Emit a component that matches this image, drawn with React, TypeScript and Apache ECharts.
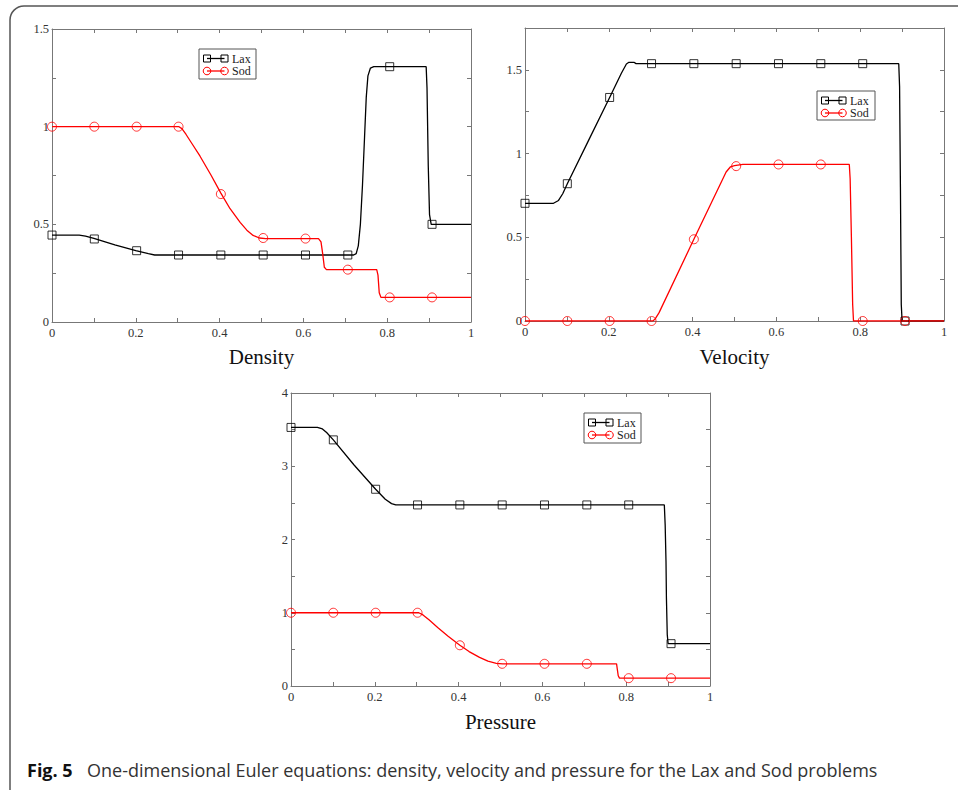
import React, { useEffect, useRef } from "react";
import * as echarts from "echarts";

// ---------- data ----------
const X_MARKERS = [0, 0.101, 0.202, 0.302, 0.403, 0.504, 0.605, 0.706, 0.806, 0.907];

const DENSITY_LAX: [number, number][] = [
  [0, 0.445], [0.065, 0.445], [0.08, 0.44], [0.1, 0.428], [0.15, 0.395], [0.2, 0.365],
  [0.23, 0.35], [0.245, 0.343], [0.72, 0.343], [0.726, 0.35], [0.731, 0.39], [0.736, 0.5],
  [0.741, 0.7], [0.746, 0.95], [0.75, 1.15], [0.754, 1.26], [0.76, 1.3], [0.768, 1.307],
  [0.893, 1.307], [0.895, 1.2], [0.898, 0.8], [0.901, 0.55], [0.905, 0.5], [1, 0.5],
];
const DENSITY_SOD: [number, number][] = [
  [0, 1], [0.303, 1], [0.31, 0.99], [0.32, 0.96], [0.335, 0.91], [0.353, 0.85], [0.38, 0.75],
  [0.403, 0.66], [0.425, 0.58], [0.449, 0.51], [0.465, 0.47], [0.48, 0.443], [0.495, 0.43],
  [0.51, 0.427], [0.636, 0.427], [0.642, 0.41], [0.646, 0.35], [0.65, 0.28], [0.655, 0.268],
  [0.775, 0.268], [0.778, 0.24], [0.781, 0.15], [0.785, 0.126], [1, 0.126],
];
const DENSITY_LAX_MARKS = [0.445, 0.425, 0.365, 0.343, 0.343, 0.343, 0.343, 0.343, 1.307, 0.5];
const DENSITY_SOD_MARKS = [1, 1, 1, 1, 0.655, 0.43, 0.427, 0.268, 0.126, 0.126];

const VELOCITY_LAX: [number, number][] = [
  [0, 0.703], [0.068, 0.703], [0.08, 0.72], [0.09, 0.76], [0.101, 0.82], [0.15, 1.07],
  [0.202, 1.335], [0.23, 1.48], [0.242, 1.535], [0.248, 1.545], [0.26, 1.545], [0.265, 1.537],
  [0.892, 1.537], [0.894, 1.4], [0.896, 0.8], [0.898, 0.1], [0.9, 0], [1, 0],
];
const VELOCITY_SOD: [number, number][] = [
  [0, 0], [0.305, 0], [0.31, 0.01], [0.32, 0.05], [0.403, 0.488], [0.48, 0.89], [0.49, 0.92],
  [0.5, 0.928], [0.52, 0.935], [0.774, 0.935], [0.776, 0.85], [0.779, 0.5], [0.782, 0.1],
  [0.784, 0], [1, 0],
];
const VELOCITY_LAX_MARKS = [0.703, 0.82, 1.335, 1.537, 1.537, 1.537, 1.537, 1.537, 1.537, 0];
const VELOCITY_SOD_MARKS = [0, 0, 0, 0, 0.488, 0.925, 0.935, 0.935, 0, 0];

const PRESSURE_LAX: [number, number][] = [
  [0, 3.53], [0.063, 3.53], [0.075, 3.51], [0.085, 3.46], [0.101, 3.36], [0.15, 3.02],
  [0.202, 2.686], [0.225, 2.55], [0.24, 2.49], [0.25, 2.472], [0.891, 2.472], [0.893, 2.2],
  [0.895, 1.7], [0.896, 1.2], [0.898, 0.7], [0.9, 0.58], [1, 0.578],
];
const PRESSURE_SOD: [number, number][] = [
  [0, 1], [0.305, 1], [0.315, 0.97], [0.33, 0.9], [0.35, 0.8], [0.375, 0.68], [0.403, 0.556],
  [0.425, 0.47], [0.45, 0.39], [0.47, 0.34], [0.49, 0.31], [0.505, 0.303], [0.777, 0.303],
  [0.779, 0.22], [0.781, 0.14], [0.784, 0.107], [1, 0.107],
];
const PRESSURE_LAX_MARKS = [3.53, 3.36, 2.686, 2.472, 2.472, 2.472, 2.472, 2.472, 2.472, 0.578];
const PRESSURE_SOD_MARKS = [1, 1, 1, 1, 0.556, 0.303, 0.303, 0.303, 0.107, 0.107];

const TITLES = ["Density", "Velocity", "Pressure"];
const LEGEND_NAMES = ["Lax", "Sod"];
const Y_MAX = [1.5, 1.75, 4];
const Y_INTERVAL = [0.25, 0.25, 0.5];
const Y_LABEL_STEP = [0.5, 0.5, 1];
const X_INTERVAL = 0.1;
const X_LABEL_STEP = 0.2;
const CAPTION_BOLD = "Fig. 5";
const CAPTION_TEXT =
  "One-dimensional Euler equations: density, velocity and pressure for the Lax and Sod problems";

// ---------- layout / style ----------
const GRIDS = [
  { left: 52, top: 29, width: 419, height: 293 },
  { left: 525, top: 28, width: 419, height: 293 },
  { left: 291, top: 393, width: 419, height: 293 },
];
const LEGEND_BOXES = [
  { x: 199, y: 49, w: 57, h: 30 },
  { x: 817, y: 91, w: 58, h: 29 },
  { x: 584, y: 413, w: 57, h: 30 },
];
const TITLE_POS = [
  { x: 261.5, y: 357 },
  { x: 734.5, y: 357 },
  { x: 500.5, y: 722 },
];
const BLACK = "#000000";
const RED = "#ff0000";
const AXIS_COLOR = "#777777";
const SERIF = "'Liberation Serif', 'Times New Roman', serif";

const isMult = (v: number, s: number) => Math.abs(v / s - Math.round(v / s)) < 1e-6;
const fmt = (v: number) => String(Number(v.toFixed(2)));

function buildOption() {
  const curves = [
    [DENSITY_LAX, DENSITY_SOD],
    [VELOCITY_LAX, VELOCITY_SOD],
    [PRESSURE_LAX, PRESSURE_SOD],
  ];
  const marks = [
    [DENSITY_LAX_MARKS, DENSITY_SOD_MARKS],
    [VELOCITY_LAX_MARKS, VELOCITY_SOD_MARKS],
    [PRESSURE_LAX_MARKS, PRESSURE_SOD_MARKS],
  ];
  const xAxis: any[] = [];
  const yAxis: any[] = [];
  const series: any[] = [];
  const graphic: any[] = [];

  graphic.push({
    type: "rect",
    shape: { x: 10, y: 6, width: 1200, height: 1200, r: [14, 0, 0, 0] },
    style: { fill: "none", stroke: "#555", lineWidth: 1.5 },
    silent: true,
  });

  GRIDS.forEach((g, i) => {
    const tick = { show: true, inside: true, length: 4, lineStyle: { color: AXIS_COLOR, width: 1 } };
    const line = { show: true, onZero: false, lineStyle: { color: AXIS_COLOR, width: 1 } };
    const labelBase = { color: "#333", fontFamily: SERIF, fontSize: 12.5 };
    xAxis.push({
      type: "value", gridIndex: i, position: "bottom", min: 0, max: 1, interval: X_INTERVAL,
      axisLine: line, axisTick: tick, splitLine: { show: false },
      axisLabel: {
        ...labelBase, margin: 4, showMinLabel: true, showMaxLabel: true,
        formatter: (v: number) => (isMult(v, X_LABEL_STEP) ? fmt(v) : ""),
      },
    });
    xAxis.push({
      type: "value", gridIndex: i, position: "top", min: 0, max: 1, interval: X_INTERVAL,
      axisLine: line, axisTick: tick, splitLine: { show: false }, axisLabel: { show: false },
    });
    yAxis.push({
      type: "value", gridIndex: i, position: "left", min: 0, max: Y_MAX[i], interval: Y_INTERVAL[i],
      axisLine: line, axisTick: tick, splitLine: { show: false },
      axisLabel: {
        ...labelBase, margin: 3, showMinLabel: true, showMaxLabel: true,
        formatter: (v: number) => (isMult(v, Y_LABEL_STEP[i]) ? fmt(v) : ""),
      },
    });
    yAxis.push({
      type: "value", gridIndex: i, position: "right", min: 0, max: Y_MAX[i], interval: Y_INTERVAL[i],
      axisLine: line, axisTick: tick, splitLine: { show: false }, axisLabel: { show: false },
    });

    const colors = [BLACK, RED];
    const symbols = ["rect", "circle"];
    [0, 1].forEach((k) => {
      series.push({
        type: "line", name: LEGEND_NAMES[k], xAxisIndex: 2 * i, yAxisIndex: 2 * i,
        data: curves[i][k], showSymbol: false, symbol: "none", silent: true,
        lineStyle: { color: colors[k], width: 1.3 }, z: 2,
      });
      series.push({
        type: "scatter", name: LEGEND_NAMES[k] + " markers", xAxisIndex: 2 * i, yAxisIndex: 2 * i,
        data: X_MARKERS.map((x, j) => [x, marks[i][k][j]]),
        symbol: symbols[k], symbolSize: k === 0 ? 8 : 9, clip: false, silent: true,
        itemStyle: { color: "rgba(0,0,0,0)", borderColor: colors[k], borderWidth: 1 }, z: 3,
      });
    });

    // legend box
    const b = LEGEND_BOXES[i];
    const rows = [b.y + 9.5, b.y + 22];
    const children: any[] = [
      {
        type: "rect", shape: { x: b.x, y: b.y, width: b.w, height: b.h },
        style: { fill: "#fff", stroke: "#555", lineWidth: 1 },
      },
    ];
    rows.forEach((ry, k) => {
      const x0 = b.x + 8, x1 = b.x + 25.5;
      children.push({
        type: "line", shape: { x1: x0, y1: ry, x2: x1, y2: ry },
        style: { stroke: colors[k], lineWidth: 1.3 },
      });
      [x0, x1].forEach((cx) => {
        if (k === 0) {
          children.push({
            type: "rect", shape: { x: cx - 3.5, y: ry - 3.5, width: 7, height: 7 },
            style: { fill: "none", stroke: colors[k], lineWidth: 1 },
          });
        } else {
          children.push({
            type: "circle", shape: { cx, cy: ry, r: 3.8 },
            style: { fill: "none", stroke: colors[k], lineWidth: 1 },
          });
        }
      });
      children.push({
        type: "text", x: b.x + 33, y: ry,
        style: {
          text: LEGEND_NAMES[k], fill: "#222", fontFamily: SERIF, fontSize: 12,
          align: "left", verticalAlign: "middle",
        },
      });
    });
    graphic.push({ type: "group", children, z: 10 });

    graphic.push({
      type: "text", x: TITLE_POS[i].x, y: TITLE_POS[i].y,
      style: {
        text: TITLES[i], fill: "#111", fontFamily: SERIF, fontSize: 21,
        align: "center", verticalAlign: "middle",
      },
    });
  });

  graphic.push({
    type: "text", x: 27, y: 770,
    style: {
      text: CAPTION_BOLD, fill: "#111", fontFamily: "'Open Sans', sans-serif", fontSize: 18,
      fontWeight: "bold", align: "left", verticalAlign: "middle",
    },
  });
  graphic.push({
    type: "text", x: 87, y: 770,
    style: {
      text: CAPTION_TEXT, fill: "#333", fontFamily: "'Open Sans', sans-serif", fontSize: 18,
      align: "left", verticalAlign: "middle",
    },
  });

  return {
    animation: false,
    backgroundColor: "#ffffff",
    grid: GRIDS.map((g) => ({ ...g, containLabel: false })),
    xAxis,
    yAxis,
    series,
    graphic,
  };
}

export default function App() {
  const ref = useRef<HTMLDivElement>(null);
  useEffect(() => {
    if (!ref.current) return;
    const chart = echarts.init(ref.current, undefined, { renderer: "svg" });
    chart.setOption(buildOption() as any);
    return () => chart.dispose();
  }, []);
  return (
    <div
      ref={ref}
      style={{ position: "fixed", left: 0, top: 0, width: 958, height: 790, background: "#fff" }}
    />
  );
}
